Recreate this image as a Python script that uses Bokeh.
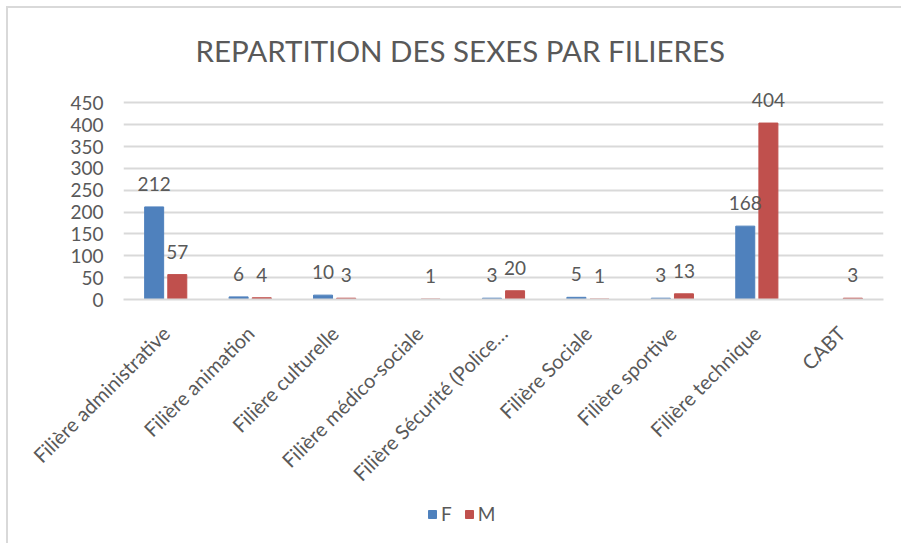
from bokeh.plotting import figure
from bokeh.layouts import column
from bokeh.models import ColumnDataSource, LabelSet, Legend, LegendItem, FactorRange, Range1d, SingleIntervalTicker
from bokeh.core.properties import value
from bokeh.transform import dodge
from bokeh.embed import file_html
from bokeh.resources import INLINE
import math

categories = ["Filière administrative", "Filière animation", "Filière culturelle",
              "Filière médico-sociale", "Filière Sécurité (Police…", "Filière Sociale",
              "Filière sportive", "Filière technique", "CABT"]
f_values = [212, 6, 10, None, 3, 5, 3, 168, None]
m_values = [57, 4, 3, 1, 20, 1, 13, 404, 3]
series_names = ["F", "M"]
title_text = "REPARTITION DES SEXES PAR FILIERES"

F_COLOR = "#4f81bd"
M_COLOR = "#c0504d"
TXT = "#595959"
FONT = "Lato"

def nanify(vals):
    return [float("nan") if v is None else v for v in vals]

src = ColumnDataSource(dict(cat=categories, F=nanify(f_values), M=nanify(m_values)))

W = 884
p = figure(x_range=FactorRange(*categories), y_range=Range1d(0, 490),
           width=W, height=489, output_backend="svg", toolbar_location=None,
           min_border_left=115, min_border_right=9, min_border_top=77, min_border_bottom=198)

p.outline_line_color = None
p.background_fill_color = "white"
p.border_fill_color = "white"

bw = 0.225
off = 0.137
rf = p.vbar(x=dodge("cat", -off, range=p.x_range), top="F", width=bw, source=src,
            fill_color=F_COLOR, line_color=F_COLOR)
rm = p.vbar(x=dodge("cat", off, range=p.x_range), top="M", width=bw, source=src,
            fill_color=M_COLOR, line_color=M_COLOR)

# data labels
for vals, sign in ((f_values, -1), (m_values, 1)):
    cats = [c for c, v in zip(categories, vals) if v is not None]
    vs = [v for v in vals if v is not None]
    ls = ColumnDataSource(dict(cat=cats, v=vs, t=[str(v) for v in vs]))
    p.add_layout(LabelSet(x=dodge("cat", sign * off, range=p.x_range), y="v", text="t", source=ls,
                          y_offset=23, text_align="center", text_baseline="middle",
                          text_font=value(FONT), text_font_size="19px", text_color=TXT))

# axes
p.yaxis.ticker = SingleIntervalTicker(interval=50)
p.yaxis.axis_line_color = None
p.yaxis.major_tick_line_color = None
p.yaxis.minor_tick_line_color = None
p.yaxis.major_label_text_font = FONT
p.yaxis.major_label_text_font_size = "19px"
p.yaxis.major_label_text_color = TXT
p.yaxis.major_label_standoff = 14

p.xaxis.axis_line_color = "#d9d9d9"
p.xaxis.axis_line_width = 2
p.xaxis.major_tick_line_color = None
p.xaxis.minor_tick_line_color = None
p.xaxis.major_label_orientation = math.pi / 4
p.xaxis.major_label_text_font = FONT
p.xaxis.major_label_text_font_size = "20px"
p.xaxis.major_label_text_color = TXT
p.xaxis.major_label_standoff = 24

p.xgrid.grid_line_color = None
p.ygrid.grid_line_color = "#d9d9d9"
p.ygrid.grid_line_width = 2

# title
p.title.text = title_text
p.title.align = "left"
p.title.offset = 72
p.title.text_font = FONT
p.title.text_font_size = "29.5px"
p.title.text_font_style = "normal"
p.title.text_color = TXT
p.title.standoff = 35

# legend strip below the chart (its bars lie outside its visible y-range)
lg = figure(width=W, height=46, output_backend="svg", toolbar_location=None,
            x_range=FactorRange(*categories), y_range=Range1d(1000, 1001),
            x_axis_type=None, y_axis_type=None,
            min_border_left=0, min_border_right=0, min_border_top=0, min_border_bottom=0)
lg.outline_line_color = None
lg.xgrid.grid_line_color = None
lg.ygrid.grid_line_color = None
lf = lg.vbar(x="cat", top="F", width=bw, source=src, fill_color=F_COLOR, line_color=F_COLOR)
lm = lg.vbar(x="cat", top="M", width=bw, source=src, fill_color=M_COLOR, line_color=M_COLOR)
legend = Legend(items=[LegendItem(label=series_names[0], renderers=[lf]),
                       LegendItem(label=series_names[1], renderers=[lm])],
                orientation="horizontal", location=(304, 18),
                label_text_font=FONT, label_text_font_size="19px", label_text_color=TXT,
                glyph_width=10, glyph_height=10, spacing=12, padding=0, margin=0,
                label_width=10, label_standoff=4,
                border_line_color=None, background_fill_alpha=0)
lg.add_layout(legend, "center")

layout = column(p, lg, spacing=0,
                styles={"margin-left": "6px", "margin-top": "6px", "padding-right": "9px",
                        "box-sizing": "content-box",
                        "border-left": "2px solid #d9d9d9", "border-top": "2px solid #d9d9d9"})

open("out.html", "w").write(file_html(layout, INLINE))
